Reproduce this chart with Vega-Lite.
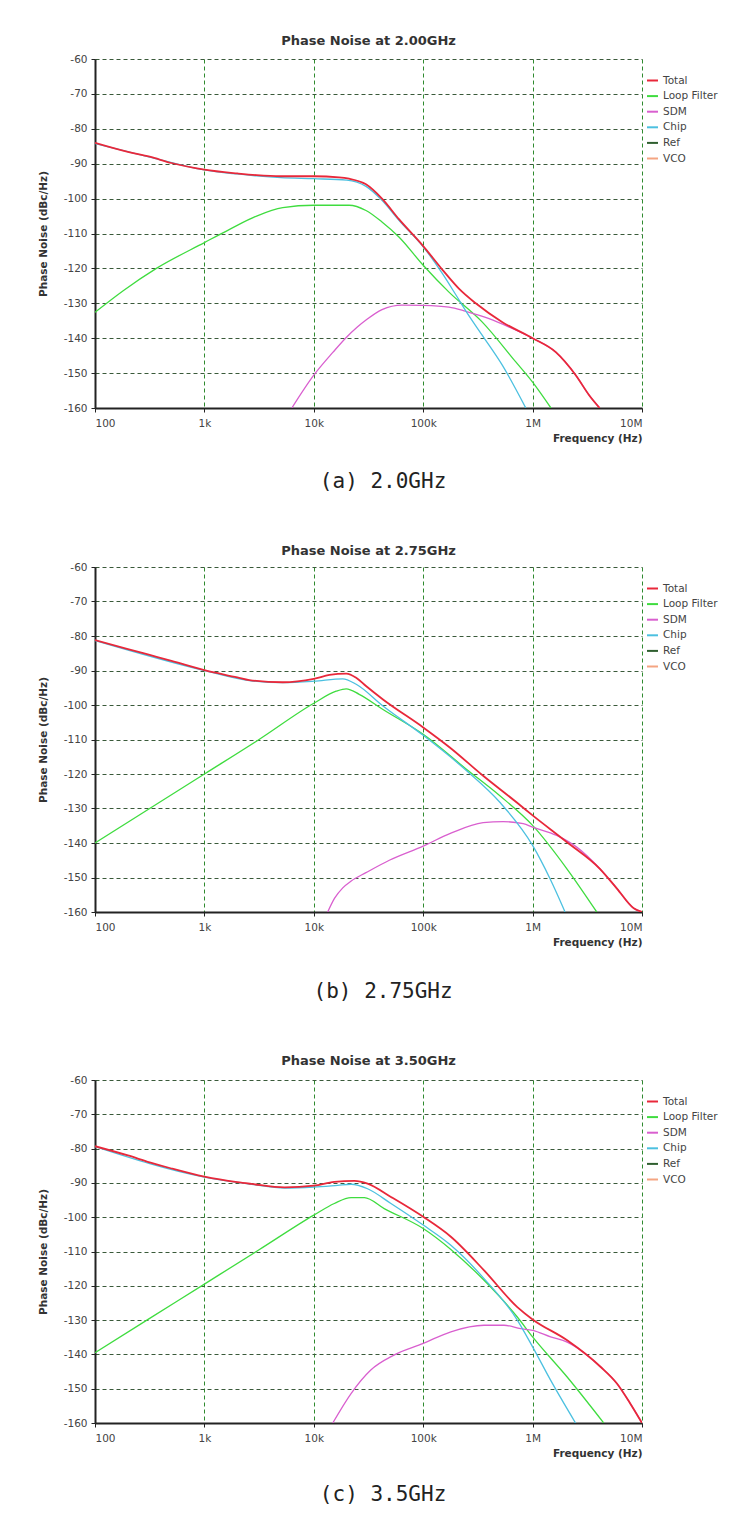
{
  "$schema": "https://vega.github.io/schema/vega-lite/v6.json",
  "background": "white",
  "padding": {"left": 38, "top": 35, "right": 5, "bottom": 5},
  "config": {
    "font": "DejaVu Sans",
    "view": {"stroke": null},
    "title": {"fontSize": 13, "fontWeight": "bold", "color": "#333333", "offset": 6, "anchor": "middle", "frame": "group"},
    "axis": {
      "grid": true, "gridDash": [4, 3], "gridOpacity": 1, "gridWidth": 1,
      "domainColor": "#222222", "domainWidth": 2, "tickColor": "#222222", "tickSize": 4,
      "labelColor": "#444444", "labelFontSize": 10.5,
      "titleColor": "#333333", "titleFontSize": 10.5, "titleFontWeight": "bold"
    },
    "axisX": {"gridColor": "#2f8a2f", "labelPadding": 6, "titlePadding": 5},
    "axisY": {"gridColor": "#3a5a3a", "labelPadding": 4, "titlePadding": 15},
    "legend": {"orient": "none", "legendX": 551, "legendY": 15, "title": null, "symbolType": "stroke", "symbolStrokeWidth": 2, "symbolSize": 120, "labelFontSize": 10.5, "labelColor": "#444444", "rowPadding": 3.6, "padding": 0, "labelOffset": 4}
  },
  "datasets": {
    "p1": [
      {"s": "Loop Filter", "f": 100, "v": -132.6}, {"s": "Loop Filter", "f": 181, "v": -126.4}, {"s": "Loop Filter", "f": 364, "v": -120}, {"s": "Loop Filter", "f": 1000, "v": -112.6}, {"s": "Loop Filter", "f": 1700, "v": -108.8}, {"s": "Loop Filter", "f": 3000, "v": -105}, {"s": "Loop Filter", "f": 5200, "v": -102.6}, {"s": "Loop Filter", "f": 10000, "v": -101.9}, {"s": "Loop Filter", "f": 21000, "v": -101.9}, {"s": "Loop Filter", "f": 30000, "v": -103.4}, {"s": "Loop Filter", "f": 42000, "v": -106.7}, {"s": "Loop Filter", "f": 60000, "v": -111}, {"s": "Loop Filter", "f": 100000, "v": -119.1}, {"s": "Loop Filter", "f": 172000, "v": -126.8}, {"s": "Loop Filter", "f": 347000, "v": -135.4}, {"s": "Loop Filter", "f": 702000, "v": -146.8}, {"s": "Loop Filter", "f": 1000000, "v": -152.6}, {"s": "Loop Filter", "f": 1470000, "v": -160},
      {"s": "SDM", "f": 6300, "v": -160}, {"s": "SDM", "f": 10000, "v": -150.6}, {"s": "SDM", "f": 15000, "v": -144}, {"s": "SDM", "f": 19500, "v": -140}, {"s": "SDM", "f": 25000, "v": -136.8}, {"s": "SDM", "f": 30000, "v": -134.8}, {"s": "SDM", "f": 42000, "v": -131.8}, {"s": "SDM", "f": 64000, "v": -130.5}, {"s": "SDM", "f": 100000, "v": -130.6}, {"s": "SDM", "f": 172000, "v": -131.1}, {"s": "SDM", "f": 245000, "v": -132.3}, {"s": "SDM", "f": 400000, "v": -134.4}, {"s": "SDM", "f": 610000, "v": -136.8}, {"s": "SDM", "f": 1000000, "v": -140}, {"s": "SDM", "f": 1630000, "v": -144}, {"s": "SDM", "f": 2480000, "v": -150.6}, {"s": "SDM", "f": 3300000, "v": -156.4}, {"s": "SDM", "f": 4100000, "v": -160},
      {"s": "Chip", "f": 100, "v": -84.2}, {"s": "Chip", "f": 316, "v": -88.1}, {"s": "Chip", "f": 1000, "v": -91.8}, {"s": "Chip", "f": 3000, "v": -93.5}, {"s": "Chip", "f": 5000, "v": -94}, {"s": "Chip", "f": 10000, "v": -94.3}, {"s": "Chip", "f": 20000, "v": -94.7}, {"s": "Chip", "f": 30000, "v": -96.5}, {"s": "Chip", "f": 42000, "v": -100.5}, {"s": "Chip", "f": 60000, "v": -106.2}, {"s": "Chip", "f": 100000, "v": -113.8}, {"s": "Chip", "f": 150000, "v": -121.5}, {"s": "Chip", "f": 200000, "v": -127.7}, {"s": "Chip", "f": 250000, "v": -132.6}, {"s": "Chip", "f": 347000, "v": -139.2}, {"s": "Chip", "f": 530000, "v": -147.8}, {"s": "Chip", "f": 867000, "v": -160},
      {"s": "Total", "f": 100, "v": -84}, {"s": "Total", "f": 200, "v": -86.6}, {"s": "Total", "f": 316, "v": -88}, {"s": "Total", "f": 500, "v": -89.8}, {"s": "Total", "f": 1000, "v": -91.7}, {"s": "Total", "f": 2000, "v": -92.8}, {"s": "Total", "f": 3000, "v": -93.3}, {"s": "Total", "f": 5000, "v": -93.6}, {"s": "Total", "f": 10000, "v": -93.6}, {"s": "Total", "f": 17000, "v": -93.9}, {"s": "Total", "f": 21000, "v": -94.3}, {"s": "Total", "f": 30000, "v": -95.9}, {"s": "Total", "f": 42000, "v": -100}, {"s": "Total", "f": 60000, "v": -105.9}, {"s": "Total", "f": 100000, "v": -113.6}, {"s": "Total", "f": 150000, "v": -120.4}, {"s": "Total", "f": 212000, "v": -125.8}, {"s": "Total", "f": 302000, "v": -130}, {"s": "Total", "f": 530000, "v": -135.4}, {"s": "Total", "f": 1000000, "v": -140}, {"s": "Total", "f": 1630000, "v": -144}, {"s": "Total", "f": 2480000, "v": -150.6}, {"s": "Total", "f": 3300000, "v": -156.4}, {"s": "Total", "f": 4100000, "v": -160}
    ],
    "p2": [
      {"s": "Loop Filter", "f": 100, "v": -140}, {"s": "Loop Filter", "f": 316, "v": -130}, {"s": "Loop Filter", "f": 1000, "v": -120}, {"s": "Loop Filter", "f": 3160, "v": -110}, {"s": "Loop Filter", "f": 10000, "v": -99.5}, {"s": "Loop Filter", "f": 16000, "v": -96}, {"s": "Loop Filter", "f": 19800, "v": -95.3}, {"s": "Loop Filter", "f": 26000, "v": -96.9}, {"s": "Loop Filter", "f": 42900, "v": -101.3}, {"s": "Loop Filter", "f": 100000, "v": -108.5}, {"s": "Loop Filter", "f": 248000, "v": -118.6}, {"s": "Loop Filter", "f": 502000, "v": -126.3}, {"s": "Loop Filter", "f": 1000000, "v": -134.9}, {"s": "Loop Filter", "f": 2050000, "v": -147.4}, {"s": "Loop Filter", "f": 3860000, "v": -160},
      {"s": "SDM", "f": 13400, "v": -160}, {"s": "SDM", "f": 15500, "v": -156}, {"s": "SDM", "f": 18400, "v": -153}, {"s": "SDM", "f": 22000, "v": -151}, {"s": "SDM", "f": 30000, "v": -148.6}, {"s": "SDM", "f": 49000, "v": -145}, {"s": "SDM", "f": 100000, "v": -140.9}, {"s": "SDM", "f": 175000, "v": -137.3}, {"s": "SDM", "f": 353000, "v": -134.1}, {"s": "SDM", "f": 538000, "v": -133.8}, {"s": "SDM", "f": 822000, "v": -134.4}, {"s": "SDM", "f": 1000000, "v": -135.4}, {"s": "SDM", "f": 1660000, "v": -137.8}, {"s": "SDM", "f": 2530000, "v": -141.2}, {"s": "SDM", "f": 4100000, "v": -147.4}, {"s": "SDM", "f": 5900000, "v": -153.2}, {"s": "SDM", "f": 8400000, "v": -158.9}, {"s": "SDM", "f": 10000000, "v": -160},
      {"s": "Chip", "f": 100, "v": -81.3}, {"s": "Chip", "f": 1000, "v": -90}, {"s": "Chip", "f": 2570, "v": -92.9}, {"s": "Chip", "f": 5200, "v": -93.5}, {"s": "Chip", "f": 10000, "v": -93.1}, {"s": "Chip", "f": 18400, "v": -92.4}, {"s": "Chip", "f": 24400, "v": -94}, {"s": "Chip", "f": 42900, "v": -100.3}, {"s": "Chip", "f": 100000, "v": -108.8}, {"s": "Chip", "f": 248000, "v": -119}, {"s": "Chip", "f": 502000, "v": -128.2}, {"s": "Chip", "f": 1000000, "v": -140.7}, {"s": "Chip", "f": 1440000, "v": -150.3}, {"s": "Chip", "f": 1980000, "v": -160},
      {"s": "Total", "f": 100, "v": -81.2}, {"s": "Total", "f": 200, "v": -83.8}, {"s": "Total", "f": 316, "v": -85.5}, {"s": "Total", "f": 500, "v": -87.2}, {"s": "Total", "f": 1000, "v": -89.9}, {"s": "Total", "f": 2000, "v": -92}, {"s": "Total", "f": 2570, "v": -92.8}, {"s": "Total", "f": 5200, "v": -93.4}, {"s": "Total", "f": 10000, "v": -92.4}, {"s": "Total", "f": 13900, "v": -91.3}, {"s": "Total", "f": 19800, "v": -90.9}, {"s": "Total", "f": 24400, "v": -92.1}, {"s": "Total", "f": 30000, "v": -94.5}, {"s": "Total", "f": 42900, "v": -98.4}, {"s": "Total", "f": 100000, "v": -106.5}, {"s": "Total", "f": 175000, "v": -112.3}, {"s": "Total", "f": 353000, "v": -120.5}, {"s": "Total", "f": 713000, "v": -128.2}, {"s": "Total", "f": 1000000, "v": -132}, {"s": "Total", "f": 2050000, "v": -139.7}, {"s": "Total", "f": 4100000, "v": -147.4}, {"s": "Total", "f": 5900000, "v": -153.2}, {"s": "Total", "f": 8400000, "v": -158.9}, {"s": "Total", "f": 10000000, "v": -160}
    ],
    "p3": [
      {"s": "Loop Filter", "f": 100, "v": -139.5}, {"s": "Loop Filter", "f": 316, "v": -129.5}, {"s": "Loop Filter", "f": 1000, "v": -119.5}, {"s": "Loop Filter", "f": 3160, "v": -109.5}, {"s": "Loop Filter", "f": 10000, "v": -99.4}, {"s": "Loop Filter", "f": 15400, "v": -96}, {"s": "Loop Filter", "f": 21900, "v": -94.3}, {"s": "Loop Filter", "f": 29000, "v": -94.3}, {"s": "Loop Filter", "f": 44000, "v": -97.5}, {"s": "Loop Filter", "f": 100000, "v": -103.3}, {"s": "Loop Filter", "f": 179000, "v": -109.4}, {"s": "Loop Filter", "f": 360000, "v": -118.4}, {"s": "Loop Filter", "f": 725000, "v": -129.1}, {"s": "Loop Filter", "f": 1000000, "v": -134.9}, {"s": "Loop Filter", "f": 2070000, "v": -146.6}, {"s": "Loop Filter", "f": 4470000, "v": -160},
      {"s": "SDM", "f": 14900, "v": -160}, {"s": "SDM", "f": 21900, "v": -151.4}, {"s": "SDM", "f": 33000, "v": -144.6}, {"s": "SDM", "f": 54000, "v": -140.2}, {"s": "SDM", "f": 100000, "v": -136.8}, {"s": "SDM", "f": 179000, "v": -133.4}, {"s": "SDM", "f": 360000, "v": -131.5}, {"s": "SDM", "f": 548000, "v": -131.5}, {"s": "SDM", "f": 777000, "v": -132.5}, {"s": "SDM", "f": 1000000, "v": -133}, {"s": "SDM", "f": 1460000, "v": -134.9}, {"s": "SDM", "f": 2070000, "v": -136.4}, {"s": "SDM", "f": 4170000, "v": -143.6}, {"s": "SDM", "f": 5900000, "v": -148.5}, {"s": "SDM", "f": 7800000, "v": -154.3}, {"s": "SDM", "f": 10000000, "v": -160},
      {"s": "Chip", "f": 100, "v": -79.4}, {"s": "Chip", "f": 1000, "v": -88.3}, {"s": "Chip", "f": 2690, "v": -90.4}, {"s": "Chip", "f": 5400, "v": -91.5}, {"s": "Chip", "f": 10000, "v": -91.2}, {"s": "Chip", "f": 16500, "v": -90.7}, {"s": "Chip", "f": 21900, "v": -90.4}, {"s": "Chip", "f": 31000, "v": -91.7}, {"s": "Chip", "f": 50700, "v": -96}, {"s": "Chip", "f": 100000, "v": -102.3}, {"s": "Chip", "f": 179000, "v": -108.2}, {"s": "Chip", "f": 360000, "v": -117.9}, {"s": "Chip", "f": 725000, "v": -130}, {"s": "Chip", "f": 1000000, "v": -137.8}, {"s": "Chip", "f": 1460000, "v": -147.5}, {"s": "Chip", "f": 2470000, "v": -160},
      {"s": "Total", "f": 100, "v": -79.3}, {"s": "Total", "f": 200, "v": -82}, {"s": "Total", "f": 316, "v": -84}, {"s": "Total", "f": 500, "v": -85.8}, {"s": "Total", "f": 1000, "v": -88.2}, {"s": "Total", "f": 2000, "v": -89.8}, {"s": "Total", "f": 2690, "v": -90.3}, {"s": "Total", "f": 5400, "v": -91.3}, {"s": "Total", "f": 10000, "v": -90.8}, {"s": "Total", "f": 15400, "v": -89.7}, {"s": "Total", "f": 23500, "v": -89.4}, {"s": "Total", "f": 31000, "v": -90.2}, {"s": "Total", "f": 50700, "v": -94.1}, {"s": "Total", "f": 100000, "v": -99.9}, {"s": "Total", "f": 179000, "v": -105.7}, {"s": "Total", "f": 360000, "v": -115.5}, {"s": "Total", "f": 725000, "v": -126.2}, {"s": "Total", "f": 1000000, "v": -129.8}, {"s": "Total", "f": 2070000, "v": -135.9}, {"s": "Total", "f": 4170000, "v": -143.6}, {"s": "Total", "f": 5900000, "v": -148.5}, {"s": "Total", "f": 7800000, "v": -154.3}, {"s": "Total", "f": 10000000, "v": -160}
    ]
  },
  "spacing": 53,
  "resolve": {"scale": {"color": "independent"}, "legend": {"color": "independent"}},
  "vconcat": [
    {
      "title": {"text": "(a) 2.0GHz", "orient": "bottom", "font": "DejaVu Sans Mono", "fontSize": 21, "fontWeight": "normal", "color": "#222222", "offset": 27, "dx": 5, "anchor": "middle", "frame": "bounds"},
      "vconcat": [
        {
          "title": {"text": "Phase Noise at 2.00GHz", "offset": 6},
          "width": 547, "height": 349,
          "data": {"name": "p1"},
          "mark": {"type": "line", "clip": true, "interpolate": "monotone"},
          "encoding": {
            "x": {"field": "f", "type": "quantitative", "scale": {"type": "log", "domain": [100, 10000000]}, "axis": {"title": "Frequency (Hz)", "values": [100, 1000, 10000, 100000, 1000000, 10000000], "labelExpr": "datum.value >= 1000000 ? (datum.value/1000000) + 'M' : datum.value >= 1000 ? (datum.value/1000) + 'k' : '' + datum.value", "titleAnchor": "end"}},
            "y": {"field": "v", "type": "quantitative", "scale": {"domain": [-160, -60]}, "axis": {"title": "Phase Noise (dBc/Hz)", "values": [-160, -150, -140, -130, -120, -110, -100, -90, -80, -70, -60], "labelExpr": "'' + datum.value"}},
            "color": {"field": "s", "type": "nominal", "scale": {"domain": ["Total", "Loop Filter", "SDM", "Chip", "Ref", "VCO"], "range": ["#e8283a", "#3fdc3f", "#d95fcf", "#4cc0e0", "#2f5f2f", "#f4a582"]}},
            "strokeWidth": {"condition": {"test": "datum.s === 'Total'", "value": 1.8}, "value": 1.3}
          }
        }
      ]
    },
    {
      "title": {"text": "(b) 2.75GHz", "orient": "bottom", "font": "DejaVu Sans Mono", "fontSize": 21, "fontWeight": "normal", "color": "#222222", "offset": 33, "dx": 5, "anchor": "middle", "frame": "bounds"},
      "vconcat": [
        {
          "title": {"text": "Phase Noise at 2.75GHz", "offset": 4},
          "width": 547, "height": 345,
          "data": {"name": "p2"},
          "mark": {"type": "line", "clip": true, "interpolate": "monotone"},
          "encoding": {
            "x": {"field": "f", "type": "quantitative", "scale": {"type": "log", "domain": [100, 10000000]}, "axis": {"title": "Frequency (Hz)", "values": [100, 1000, 10000, 100000, 1000000, 10000000], "labelExpr": "datum.value >= 1000000 ? (datum.value/1000000) + 'M' : datum.value >= 1000 ? (datum.value/1000) + 'k' : '' + datum.value", "titleAnchor": "end"}},
            "y": {"field": "v", "type": "quantitative", "scale": {"domain": [-160, -60]}, "axis": {"title": "Phase Noise (dBc/Hz)", "values": [-160, -150, -140, -130, -120, -110, -100, -90, -80, -70, -60], "labelExpr": "'' + datum.value"}},
            "color": {"field": "s", "type": "nominal", "scale": {"domain": ["Total", "Loop Filter", "SDM", "Chip", "Ref", "VCO"], "range": ["#e8283a", "#3fdc3f", "#d95fcf", "#4cc0e0", "#2f5f2f", "#f4a582"]}},
            "strokeWidth": {"condition": {"test": "datum.s === 'Total'", "value": 1.8}, "value": 1.3}
          }
        }
      ]
    },
    {
      "title": {"text": "(c) 3.5GHz", "orient": "bottom", "font": "DejaVu Sans Mono", "fontSize": 21, "fontWeight": "normal", "color": "#222222", "offset": 25, "dx": 5, "anchor": "middle", "frame": "bounds"},
      "vconcat": [
        {
          "title": {"text": "Phase Noise at 3.50GHz", "offset": 7},
          "width": 547, "height": 343,
          "data": {"name": "p3"},
          "mark": {"type": "line", "clip": true, "interpolate": "monotone"},
          "encoding": {
            "x": {"field": "f", "type": "quantitative", "scale": {"type": "log", "domain": [100, 10000000]}, "axis": {"title": "Frequency (Hz)", "values": [100, 1000, 10000, 100000, 1000000, 10000000], "labelExpr": "datum.value >= 1000000 ? (datum.value/1000000) + 'M' : datum.value >= 1000 ? (datum.value/1000) + 'k' : '' + datum.value", "titleAnchor": "end"}},
            "y": {"field": "v", "type": "quantitative", "scale": {"domain": [-160, -60]}, "axis": {"title": "Phase Noise (dBc/Hz)", "values": [-160, -150, -140, -130, -120, -110, -100, -90, -80, -70, -60], "labelExpr": "'' + datum.value"}},
            "color": {"field": "s", "type": "nominal", "scale": {"domain": ["Total", "Loop Filter", "SDM", "Chip", "Ref", "VCO"], "range": ["#e8283a", "#3fdc3f", "#d95fcf", "#4cc0e0", "#2f5f2f", "#f4a582"]}},
            "strokeWidth": {"condition": {"test": "datum.s === 'Total'", "value": 1.8}, "value": 1.3}
          }
        }
      ]
    }
  ]
}
